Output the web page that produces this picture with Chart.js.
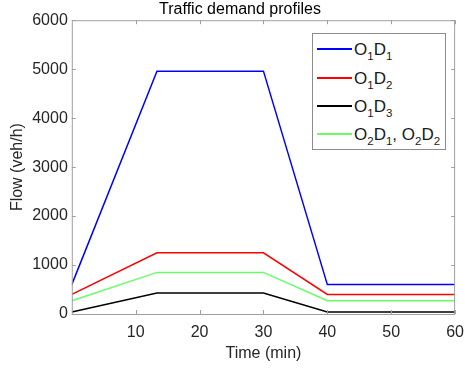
<!DOCTYPE html>
<html>
<head>
<meta charset="utf-8">
<script src="https://cdn.jsdelivr.net/npm/chart.js@4.4.1/dist/chart.umd.min.js"></script>
<style>
  html, body { margin: 0; padding: 0; background: #fff; overflow: hidden; }
  #wrap { position: relative; width: 465px; height: 370px; overflow: hidden; }
  #legend {
    position: absolute; left: 312px; top: 33px; width: 134px; height: 117px;
    border: 1px solid #8c8c8c; background: #fff; box-sizing: border-box;
    font-family: 'Liberation Sans', Arial, sans-serif; font-size: 17px; color: #1a1a1a;
  }
  .row { position: absolute; left: 4px; height: 20px; display: flex; align-items: center; white-space: nowrap; }
  .swatch { width: 35px; height: 2px; margin-right: 2px; margin-top: -3px; }
  sub { font-size: 11.5px; vertical-align: -5px; line-height: 0; }
</style>
</head>
<body>
<div id="wrap">
  <canvas id="trafficChart" width="473" height="370"></canvas>
  <div id="legend"></div>
</div>
<script>
// time breakpoints (min) and flows (veh/h) for each OD pair
const times = [0, 13.33, 30, 40, 60];
const o1d1 = [600, 4960, 4960, 600, 600];
const o1d2 = [400, 1250, 1250, 400, 400];
const o1d3 = [40, 430, 430, 40, 40];
const o2d = [270, 850, 850, 270, 270];

const xTicks = [10, 20, 30, 40, 50, 60];
const yTicks = [0, 1000, 2000, 3000, 4000, 5000, 6000];

const toPoints = (vals) => times.map((t, i) => ({ x: t, y: vals[i] }));

const axisGray = '#a0a0a0';
const textGray = '#262626';
const font = { family: "'Liberation Sans', Arial, sans-serif", size: 16 };

// MATLAB-like box with ticks pointing inward
const boxTicks = {
    id: 'boxTicks',
    afterDatasetsDraw(chart) {
        const { ctx, chartArea: a, scales } = chart;
        const len = 4;
        ctx.save();
        ctx.strokeStyle = axisGray;
        ctx.lineWidth = 1;
        ctx.strokeRect(a.left + 0.5, a.top + 0.5, a.right - a.left - 1, a.bottom - a.top);
        ctx.beginPath();
        xTicks.forEach(v => {
            const px = Math.round(scales.x.getPixelForValue(v)) + 0.5;
            ctx.moveTo(px, a.bottom); ctx.lineTo(px, a.bottom - len);
            ctx.moveTo(px, a.top); ctx.lineTo(px, a.top + len);
        });
        yTicks.forEach(v => {
            const py = Math.round(scales.y.getPixelForValue(v)) + 0.5;
            ctx.moveTo(a.left, py); ctx.lineTo(a.left + len, py);
            ctx.moveTo(a.right, py); ctx.lineTo(a.right - len, py);
        });
        ctx.stroke();
        ctx.restore();
    }
};

const ctx = document.getElementById('trafficChart').getContext('2d');

const chart = new Chart(ctx, {
    type: 'line',
    data: {
        datasets: [
            { label: 'O_1D_1', data: toPoints(o1d1), borderColor: '#0000ff' },
            { label: 'O_1D_2', data: toPoints(o1d2), borderColor: '#ff0000' },
            { label: 'O_1D_3', data: toPoints(o1d3), borderColor: '#000000' },
            { label: 'O_2D_1, O_2D_2', data: toPoints(o2d), borderColor: '#66ff66' }
        ]
    },
    options: {
        responsive: false,
        animation: false,
        elements: {
            line: { borderWidth: 1.5, tension: 0, fill: false },
            point: { radius: 0 }
        },
        layout: { padding: { left: 7, right: 0, top: 0, bottom: 7 } },
        plugins: {
            legend: { display: false },
            tooltip: { enabled: false },
            title: {
                display: true,
                text: 'Traffic demand profiles',
                color: '#000',
                font: { ...font, weight: 'normal' },
                padding: { top: 0, bottom: 1 }
            }
        },
        scales: {
            x: {
                type: 'linear',
                min: 0,
                max: 60,
                afterBuildTicks: (scale) => { scale.ticks = xTicks.map(v => ({ value: v })); },
                ticks: { color: textGray, font, padding: 9, maxRotation: 0 },
                grid: { display: false, drawTicks: false },
                border: { display: false },
                title: { display: true, text: 'Time (min)', color: textGray, font, padding: { top: -7.4, bottom: 0 } }
            },
            y: {
                min: 0,
                max: 6000,
                afterBuildTicks: (scale) => { scale.ticks = yTicks.map(v => ({ value: v })); },
                ticks: { color: textGray, font, padding: 4, callback: (v) => String(v) },
                grid: { display: false, drawTicks: false },
                border: { display: false },
                title: { display: true, text: 'Flow (veh/h)', color: textGray, font, padding: { top: 1, bottom: 1 } }
            }
        }
    },
    plugins: [boxTicks]
});

// legend built from the datasets, with subscripts as real text
const legendEl = document.getElementById('legend');
const rowTops = [6, 35, 63, 91];
chart.data.datasets.forEach((ds, i) => {
    const row = document.createElement('div');
    row.className = 'row';
    row.style.top = rowTops[i] + 'px';
    const sw = document.createElement('span');
    sw.className = 'swatch';
    sw.style.background = ds.borderColor;
    const txt = document.createElement('span');
    txt.innerHTML = ds.label.replace(/_(\d)/g, '<sub>$1</sub>');
    row.appendChild(sw);
    row.appendChild(txt);
    legendEl.appendChild(row);
});
</script>
</body>
</html>
